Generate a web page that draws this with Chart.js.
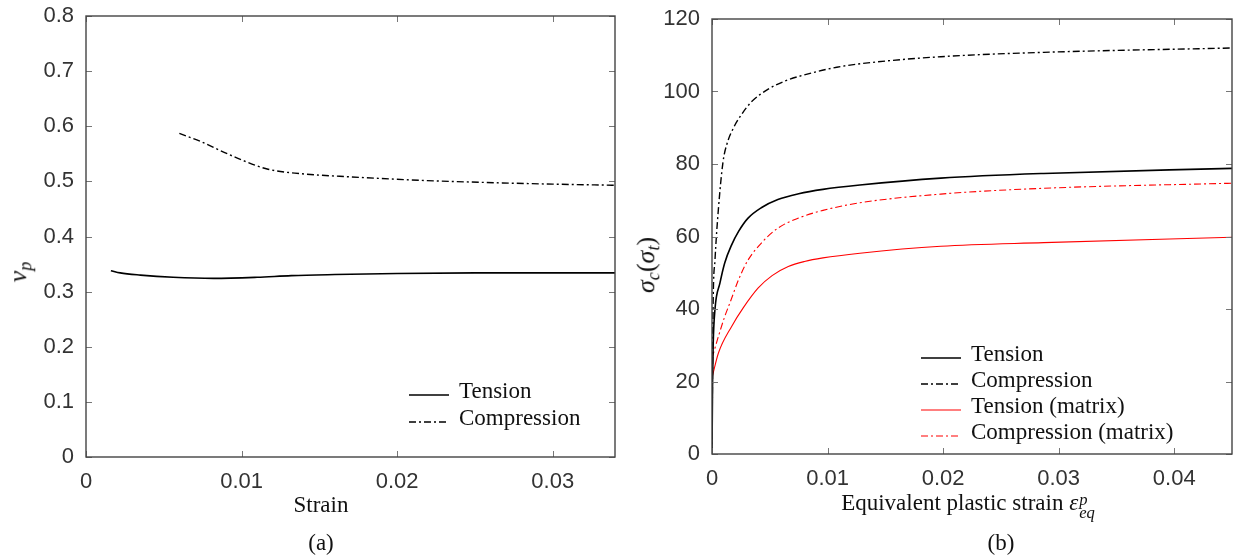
<!DOCTYPE html>
<html>
<head>
<meta charset="utf-8">
<script src="https://cdn.jsdelivr.net/npm/chart.js@4.4.1/dist/chart.umd.min.js"></script>
<style>
  body { margin: 0; background: #fff; width: 1239px; height: 559px; overflow: hidden; position: relative; }
  .cv { position: absolute; top: 0; }
  .lbl { position: absolute; font-family: 'Liberation Serif', 'DejaVu Serif', serif; font-size: 23px; color: #111; white-space: nowrap; transform: translate(-50%, -50%); }
  .rot { transform: translate(-50%, -50%) rotate(-90deg); }
  .ss { display: inline-block; vertical-align: -0.5em; line-height: 0.8em; font-size: 0.72em; text-align: left; font-style: italic; margin-left: 1px; }
  sub { font-size: 0.7em; vertical-align: -0.3em; }
</style>
</head>
<body>
<div class="cv" style="left:0;width:620px;height:559px"><canvas id="chartA"></canvas></div>
<div class="cv" style="left:620px;width:619px;height:559px"><canvas id="chartB"></canvas></div>

<div class="lbl rot" style="left:20px;top:272px;font-size:26px"><i>ν<sub>p</sub></i></div>
<div class="lbl" style="left:321px;top:505px">Strain</div>
<div class="lbl" style="left:321px;top:543px">(a)</div>

<div class="lbl rot" style="left:648px;top:265px;font-size:26px"><i>σ<sub>c</sub></i>(<i>σ<sub>t</sub></i>)</div>
<div class="lbl" style="left:968px;top:505px">Equivalent plastic strain <i>ε</i><span class="ss">p<br>eq</span></div>
<div class="lbl" style="left:1001px;top:543px">(b)</div>

<script>
// ---- (a) Poisson ratio vs strain ----
const aXTicks = [0, 0.01, 0.02, 0.03];
const aXLabels = ['0', '0.01', '0.02', '0.03'];
const aYTicks = [0, 0.1, 0.2, 0.3, 0.4, 0.5, 0.6, 0.7, 0.8];
const aYLabels = ['0', '0.1', '0.2', '0.3', '0.4', '0.5', '0.6', '0.7', '0.8'];

const aTensionX = [0.0016, 0.0022, 0.0035, 0.0056, 0.0082, 0.011, 0.0132, 0.016, 0.02, 0.025, 0.03, 0.034];
const aTensionY = [0.338, 0.334, 0.330, 0.326, 0.324, 0.326, 0.329, 0.331, 0.333, 0.334, 0.334, 0.334];
const aCompX = [0.006, 0.0074, 0.0087, 0.0100, 0.0117, 0.0138, 0.0171, 0.0214, 0.0257, 0.030, 0.034];
const aCompY = [0.587, 0.572, 0.555, 0.539, 0.522, 0.514, 0.508, 0.502, 0.498, 0.495, 0.493];

// ---- (b) stress vs equivalent plastic strain ----
const bXTicks = [0, 0.01, 0.02, 0.03, 0.04];
const bXLabels = ['0', '0.01', '0.02', '0.03', '0.04'];
const bYTicks = [0, 20, 40, 60, 80, 100, 120];
const bYLabels = ['0', '20', '40', '60', '80', '100', '120'];

const bTensionX = [0, 0.00005, 0.0001, 0.00026, 0.00069, 0.0011, 0.0017, 0.0023, 0.0031, 0.0043, 0.0057, 0.0075, 0.0096, 0.0128, 0.0198, 0.0287, 0.045];
const bTensionY = [0, 20, 30, 40, 47.2, 52.7, 57.7, 61.4, 65.0, 68.0, 70.2, 71.8, 73.0, 74.2, 76.1, 77.4, 78.8];
const bCompX = [0, 0.00005, 0.0001, 0.00026, 0.00055, 0.00095, 0.0013, 0.0019, 0.0025, 0.0034, 0.0049, 0.0064, 0.0079, 0.0108, 0.0138, 0.0198, 0.0287, 0.045];
const bCompY = [0, 25, 42, 53.6, 67.4, 80.5, 85.6, 90.2, 93.4, 97.1, 100.7, 103, 104.5, 106.7, 108, 109.6, 110.8, 112];
const bTensionMX = [0, 0.00055, 0.0017, 0.0027, 0.004, 0.0052, 0.0066, 0.008, 0.0096, 0.0128, 0.0198, 0.0287, 0.045];
const bTensionMY = [21, 27.8, 35.2, 40.3, 45.8, 49.2, 51.7, 53.1, 54.1, 55.4, 57.3, 58.3, 59.8];
const bCompMX = [0, 0.00055, 0.0011, 0.0016, 0.0023, 0.0031, 0.0043, 0.0057, 0.0075, 0.0096, 0.0128, 0.0198, 0.0287, 0.045];
const bCompMY = [26.4, 32.4, 37.9, 42.1, 48.1, 53.4, 58.3, 62.3, 65.1, 67.2, 69.3, 71.7, 73.3, 74.7];

const pts = (xs, ys) => xs.map((x, i) => ({ x: x, y: ys[i] }));
const DASHDOT = [7, 3, 2, 3];
const tickFont = { family: "'Liberation Sans', Arial, sans-serif", size: 22 };

function series(label, xs, ys, color, dash, width) {
    return {
        label: label,
        data: pts(xs, ys),
        borderColor: color,
        borderWidth: width,
        borderDash: dash,
        pointRadius: 0,
        showLine: true,
        fill: false,
        cubicInterpolationMode: 'monotone'
    };
}

// frame + inward ticks on all four sides, plus a hand-placed legend
const framePlugin = {
    id: 'frame',
    afterDraw(chart, args, opts) {
        const ctx = chart.ctx;
        const a = chart.chartArea;
        const sx = chart.scales.x, sy = chart.scales.y;
        ctx.save();
        ctx.strokeStyle = '#777';
        ctx.lineWidth = 1;
        ctx.beginPath();
        sx.ticks.forEach(t => {
            const px = Math.round(sx.getPixelForValue(t.value)) + 0.5;
            ctx.moveTo(px, a.bottom); ctx.lineTo(px, a.bottom - 6);
            ctx.moveTo(px, a.top); ctx.lineTo(px, a.top + 6);
        });
        sy.ticks.forEach(t => {
            const py = Math.round(sy.getPixelForValue(t.value)) + 0.5;
            ctx.moveTo(a.left, py); ctx.lineTo(a.left + 6, py);
            ctx.moveTo(a.right, py); ctx.lineTo(a.right - 6, py);
        });
        ctx.stroke();
        ctx.strokeStyle = '#444';
        ctx.lineWidth = 1.4;
        ctx.strokeRect(a.left, a.top, a.right - a.left, a.bottom - a.top);

        // legend
        const lg = opts.legend;
        ctx.font = "23px 'Liberation Serif', serif";
        ctx.textBaseline = 'middle';
        ctx.fillStyle = '#111';
        chart.data.datasets.forEach((ds, i) => {
            const y = lg.y + i * lg.step;
            ctx.beginPath();
            ctx.strokeStyle = ds.borderColor;
            ctx.lineWidth = ds.borderWidth;
            ctx.setLineDash(ds.borderDash || []);
            ctx.moveTo(lg.x, y + 3);
            ctx.lineTo(lg.x + 40, y + 3);
            ctx.stroke();
            ctx.setLineDash([]);
            ctx.fillText(ds.label, lg.x + 50, y);
        });
        ctx.restore();
    }
};

function makeChart(id, datasets, o) {
    return new Chart(document.getElementById(id), {
        type: 'scatter',
        data: { datasets: datasets },
        plugins: [framePlugin],
        options: {
            responsive: true,
            maintainAspectRatio: false,
            animation: false,
            layout: { padding: { left: 0, top: o.top, right: o.right, bottom: 0 } },
            plugins: {
                legend: { display: false },
                tooltip: { enabled: false },
                frame: { legend: o.legend }
            },
            scales: {
                x: {
                    type: 'linear',
                    min: 0,
                    max: o.xMax,
                    afterBuildTicks: s => { s.ticks = o.xTicks.map(v => ({ value: v })); },
                    afterFit: s => { s.height = o.xHeight; s.paddingLeft = 0; s.paddingRight = 0; },
                    grid: { display: false, drawTicks: false },
                    border: { display: false },
                    ticks: {
                        font: tickFont, color: '#333', padding: 12, maxRotation: 0, autoSkip: false,
                        callback: (v, i) => o.xLabels[i]
                    }
                },
                y: {
                    type: 'linear',
                    min: 0,
                    max: o.yMax,
                    afterBuildTicks: s => { s.ticks = o.yTicks.map(v => ({ value: v })); },
                    afterFit: s => { s.width = o.yWidth; s.paddingTop = 0; s.paddingBottom = 0; },
                    grid: { display: false, drawTicks: false },
                    border: { display: false },
                    ticks: {
                        font: tickFont, color: '#333', padding: 12, autoSkip: false,
                        callback: (v, i) => o.yLabels[i]
                    }
                }
            }
        }
    });
}

makeChart('chartA', [
    series('Tension', aTensionX, aTensionY, '#000', [], 1.6),
    series('Compression', aCompX, aCompY, '#000', DASHDOT, 1.4)
], {
    top: 16, right: 5, xHeight: 102, yWidth: 86,
    xMax: 0.034, yMax: 0.8,
    xTicks: aXTicks, xLabels: aXLabels, yTicks: aYTicks, yLabels: aYLabels,
    legend: { x: 409, y: 392, step: 27 }
});

makeChart('chartB', [
    series('Tension', bTensionX, bTensionY, '#000', [], 1.6),
    series('Compression', bCompX, bCompY, '#000', DASHDOT, 1.4),
    series('Tension (matrix)', bTensionMX, bTensionMY, '#ff0000', [], 1.1),
    series('Compression (matrix)', bCompMX, bCompMY, '#ff0000', DASHDOT, 1.1)
], {
    top: 19, right: 7, xHeight: 105, yWidth: 92,
    xMax: 0.045, yMax: 120,
    xTicks: bXTicks, xLabels: bXLabels, yTicks: bYTicks, yLabels: bYLabels,
    legend: { x: 301, y: 355, step: 26 }
});
</script>
</body>
</html>
